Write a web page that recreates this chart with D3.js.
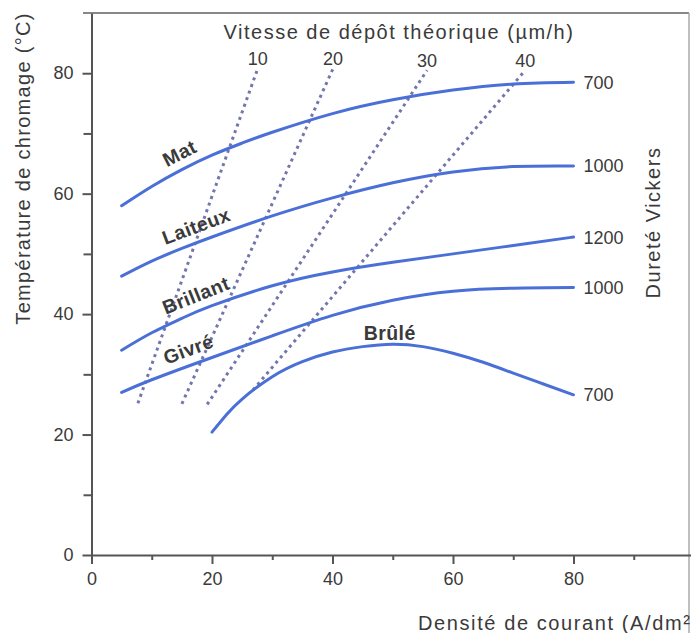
<!DOCTYPE html>
<html><head><meta charset="utf-8">
<script src="https://cdn.jsdelivr.net/npm/d3@7"></script>
<style>
body{margin:0;background:#fff;}
svg{display:block;}
text{font-family:"Liberation Sans",Arial,Helvetica,sans-serif;fill:#3a3a3a;}
</style></head><body>
<svg id="c" width="691" height="633"></svg>
<script>
// ---- data ----
const xTicks = [0, 20, 40, 60, 80];
const xMinorTicks = [10, 30, 50, 70, 90];
const yTicks = [0, 20, 40, 60, 80];
const yMinorTicks = [10, 30, 50, 70];

const curveNames = ["Mat", "Laiteux", "Brillant", "Givré", "Brûlé"];
const hardnessLabels = ["700", "1000", "1200", "1000", "700"];

const matValues      = [[5,58],[10,61.2],[15,64],[20,66.4],[25,68.4],[30,70.2],[40,73.3],[50,75.6],[60,77.2],[70,78.2],[80,78.5]];
const laiteuxValues  = [[5,46.3],[10,48.8],[15,50.9],[20,52.8],[30,56.3],[40,59.3],[50,61.8],[60,63.6],[70,64.5],[80,64.6]];
const brillantValues = [[5,34],[10,36.9],[15,39.3],[20,41.4],[30,44.7],[40,47],[50,48.6],[60,50],[70,51.4],[80,52.8]];
const givreValues    = [[5,27],[10,29.1],[20,32.8],[30,36.4],[40,39.8],[50,42.3],[60,43.8],[70,44.3],[80,44.4]];
const bruleValues    = [[20,20.4],[22.5,23.4],[25,25.9],[30,29.6],[35,32.1],[40,33.7],[45,34.6],[50,35],[55,34.6],[60,33.5],[65,32],[70,30.2],[75,28.4],[80,26.6]];
const curveValues = [matValues, laiteuxValues, brillantValues, givreValues, bruleValues];

const speedLabels = ["10", "20", "30", "40"];
const speed10 = [[7.7,25.2],[27.6,80.8]];
const speed20 = [[15.0,25.1],[40.1,80.8]];
const speed30 = [[19.2,25.0],[55.7,80.5]];
const speed40 = [[26.8,27.4],[72.0,80.5]];
const speedValues = [speed10, speed20, speed30, speed40];

const labelAtX = [15.8, 18.3, 18.3, 17, 49.5];

const titleText = "Vitesse de dépôt théorique (µm/h)";
const yTitle = "Température de chromage (°C)";
const xTitle = "Densité de courant (A/dm²)";
const rightTitle = "Dureté Vickers";

// ---- chart ----
const svg = d3.select("#c");
const x = d3.scaleLinear().domain([0, 100]).range([91.5, 694]);
const y = d3.scaleLinear().domain([0, 90]).range([555, 13]);

const axisColor = "#555";
const blue = "#4a70d8";

// frame (top and right border of scanned figure)
svg.append("line").attr("x1", 83).attr("x2", 689).attr("y1", y(90)).attr("y2", y(90))
  .attr("stroke", "#888").attr("stroke-width", 2);
svg.append("line").attr("x1", 689).attr("x2", 689).attr("y1", y(90)).attr("y2", 633)
  .attr("stroke", "#aaa").attr("stroke-width", 1.5);

function styleAxis(g) {
  g.selectAll("path,line").attr("stroke", axisColor).attr("stroke-width", 2);
  g.selectAll("text").attr("fill", "#3a3a3a").style("font-size", "18px")
    .style("font-family", "'Liberation Sans',Arial,sans-serif");
}

const gx = svg.append("g").attr("transform", `translate(0,${y(0)})`)
  .call(d3.axisBottom(x).tickValues(xTicks).tickSize(9).tickSizeOuter(0).tickPadding(8));
styleAxis(gx);
const gxm = svg.append("g").attr("transform", `translate(0,${y(0)})`)
  .call(d3.axisBottom(x).tickValues(xMinorTicks).tickSize(5).tickFormat(""));
gxm.select(".domain").remove();
styleAxis(gxm);

const gy = svg.append("g").attr("transform", `translate(${x(0)},0)`)
  .call(d3.axisLeft(y).tickValues(yTicks).tickSize(9).tickSizeOuter(0).tickPadding(9));
styleAxis(gy);
const gym = svg.append("g").attr("transform", `translate(${x(0)},0)`)
  .call(d3.axisLeft(y).tickValues(yMinorTicks).tickSize(8).tickFormat(""));
gym.select(".domain").remove();
styleAxis(gym);

// speed (dotted) lines
const straight = d3.line().x(d => x(d[0])).y(d => y(d[1]));
speedValues.forEach((s, i) => {
  svg.append("path").attr("d", straight(s)).attr("fill", "none")
    .attr("stroke", "#7375ad").attr("stroke-width", 3)
    .attr("stroke-dasharray", "3,4");
  const top = s[1];
  svg.append("text").attr("x", x(top[0])).attr("y", y(top[1]) - 3)
    .attr("text-anchor", "middle").style("font-size", "18px").text(speedLabels[i]);
});

// curves
const smooth = d3.line().x(d => x(d[0])).y(d => y(d[1])).curve(d3.curveNatural);
function interp(data, xv) {
  for (let k = 0; k < data.length - 1; k++) {
    if (xv >= data[k][0] && xv <= data[k + 1][0]) {
      const t = (xv - data[k][0]) / (data[k + 1][0] - data[k][0]);
      return data[k][1] + t * (data[k + 1][1] - data[k][1]);
    }
  }
  return data[data.length - 1][1];
}
curveValues.forEach((data, i) => {
  svg.append("path").attr("d", smooth(data)).attr("fill", "none")
    .attr("stroke", blue).attr("stroke-width", 3).attr("stroke-linecap", "round");
  const last = data[data.length - 1];
  svg.append("text").attr("x", x(last[0]) + 10).attr("y", y(last[1])).attr("dy", "0.36em")
    .style("font-size", "18px").text(hardnessLabels[i]);

  const lx = labelAtX[i];
  const px = x(lx), py = y(interp(data, lx));
  const x1 = x(lx - 3), y1 = y(interp(data, lx - 3)), x2 = x(lx + 3), y2 = y(interp(data, lx + 3));
  let ang = Math.atan2(y2 - y1, x2 - x1) * 180 / Math.PI;
  let off = -9;
  if (i === 4) { ang = 0; off = -4; }
  svg.append("text").attr("transform", `translate(${px},${py}) rotate(${ang})`)
    .attr("y", off).attr("text-anchor", "middle")
    .style("font-size", "19.5px").style("font-weight", "bold").style("letter-spacing", "0.4px")
    .attr("fill", "#333").text(curveNames[i]);
});

// titles
svg.append("text").attr("x", 399).attr("y", 39).attr("text-anchor", "middle")
  .style("font-size", "20px").style("letter-spacing", "1.5px").text(titleText);
svg.append("text").attr("transform", "translate(29.5,168.5) rotate(-90)").attr("text-anchor", "middle")
  .style("font-size", "20px").style("letter-spacing", "1.3px").text(yTitle);
svg.append("text").attr("transform", "translate(659.5,222.5) rotate(-90)").attr("text-anchor", "middle")
  .style("font-size", "20px").style("letter-spacing", "1.5px").text(rightTitle);
svg.append("text").attr("x", 418).attr("y", 630)
  .style("font-size", "20px").style("letter-spacing", "1.6px").text(xTitle);
</script>
</body></html>
